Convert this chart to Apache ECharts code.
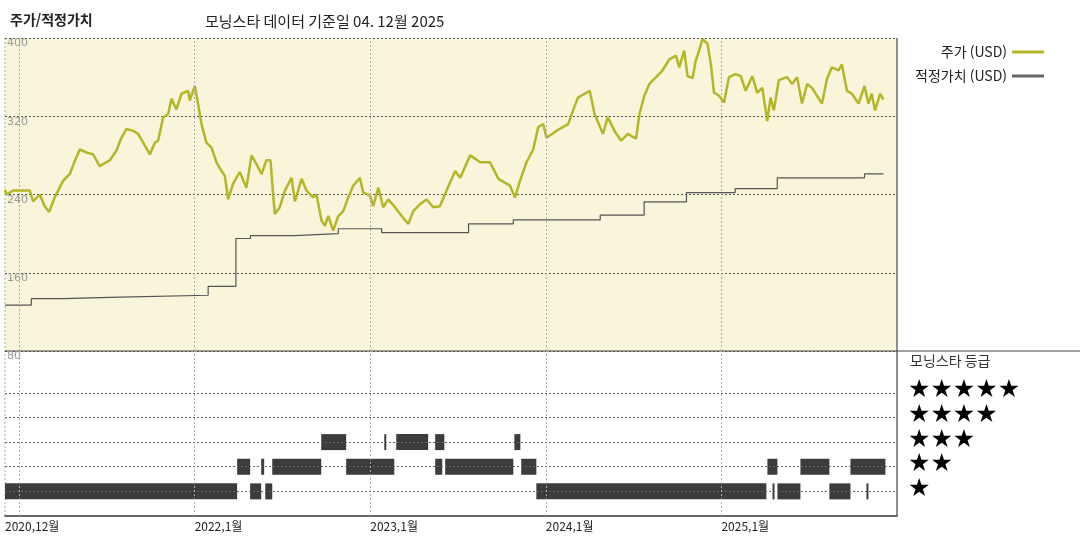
<!DOCTYPE html>
<html lang="ko">
<head>
    <meta charset="UTF-8">
    <title>주가/적정가치</title>
    <script src="https://cdn.jsdelivr.net/npm/echarts@6/dist/echarts.min.js"></script>
    <style type="text/css">
        html, body { margin: 0; padding: 0; background: #fff; }
        #chart { width: 1080px; height: 540px; }
    </style>
</head>
<body>
<div id="chart"></div>
<script type="text/javascript">
    // x positions are decimal years
    var priceX = [2020.92,2020.928,2020.966,2021.000,2021.061,2021.080,2021.118,2021.146,2021.171,2021.203,2021.251,2021.289,2021.317,2021.346,2021.384,2021.422,2021.459,2021.517,2021.555,2021.583,2021.612,2021.650,2021.678,2021.707,2021.745,2021.773,2021.792,2021.821,2021.849,2021.868,2021.896,2021.925,2021.963,2021.972,2022.001,2022.020,2022.039,2022.067,2022.096,2022.124,2022.153,2022.172,2022.191,2022.219,2022.257,2022.295,2022.324,2022.352,2022.381,2022.409,2022.432,2022.447,2022.457,2022.485,2022.514,2022.552,2022.571,2022.609,2022.637,2022.675,2022.694,2022.723,2022.742,2022.761,2022.789,2022.818,2022.846,2022.875,2022.903,2022.941,2022.960,2022.998,2023.017,2023.046,2023.074,2023.103,2023.141,2023.179,2023.217,2023.245,2023.283,2023.321,2023.359,2023.397,2023.437,2023.484,2023.512,2023.569,2023.626,2023.682,2023.730,2023.796,2023.824,2023.853,2023.890,2023.928,2023.957,2023.985,2024.004,2024.060,2024.127,2024.155,2024.183,2024.221,2024.250,2024.278,2024.325,2024.353,2024.391,2024.429,2024.467,2024.514,2024.533,2024.561,2024.590,2024.628,2024.665,2024.703,2024.741,2024.760,2024.788,2024.807,2024.836,2024.854,2024.873,2024.892,2024.921,2024.940,2024.958,2024.987,2025.015,2025.043,2025.081,2025.110,2025.138,2025.176,2025.204,2025.233,2025.261,2025.280,2025.299,2025.327,2025.374,2025.403,2025.431,2025.459,2025.488,2025.516,2025.544,2025.573,2025.601,2025.629,2025.667,2025.686,2025.715,2025.743,2025.781,2025.815,2025.837,2025.856,2025.875,2025.904,2025.923];
    var priceY = [245,240,244,244,244,233,240,228,222,237,254,261,274,286,283,281,269,275,285,298,307,305,302,293,281,293,295,319,322,338,327,343,346,336,351,332,312,293,288,273,264,259,235,251,263,247,280,271,261,275,275,240,220,227,244,257,233,256,244,237,240,213,208,218,203,218,223,237,249,257,242,239,228,247,227,235,227,218,210,223,230,235,227,228,245,264,257,280,273,273,256,249,237,254,273,286,309,312,298,305,312,326,339,343,346,322,302,319,305,295,302,297,322,341,353,360,367,378,382,370,387,361,359,377,387,399,394,373,344,341,334,360,363,361,346,361,344,349,315,339,326,357,360,353,360,333,353,349,341,333,358,370,367,373,346,343,333,351,333,343,326,343,337];

    var fairX = [2020.92,2021.070,2021.251,2021.574,2022.077,2022.235,2022.318,2022.571,2022.818,2023.065,2023.560,2023.815,2024.310,2024.560,2024.801,2025.078,2025.318,2025.815,2025.923];
    var fairY = [127,133.5,135,137,146,195,198,200,205,201,210,214,219,232.5,242,246,257,261,261];

    var ratingStart = [2020.92,2022.316,2022.402,2023.946,2025.291,2025.319,2025.615,2025.826, 2022.242,2022.379,2022.442,2022.863,2023.370,2023.427,2023.860,2025.262,2025.450,2025.735, 2022.721,2023.080,2023.148,2023.370,2023.821];
    var ratingEnd   = [2022.242,2022.379,2022.442,2025.256,2025.296,2025.450,2025.735,2025.832, 2022.316,2022.396,2022.721,2023.137,2023.410,2023.815,2023.946,2025.319,2025.615,2025.934, 2022.863,2023.091,2023.330,2023.422,2023.855];
    var ratingStars = [1,1,1,1,1,1,1,1, 2,2,2,2,2,2,2,2,2,2, 3,3,3,3,3];
    var starRows = [1,2,3,4,5];

    var yearTicks = [2021,2022,2023,2024,2025];
    var labelTicks = [2020.92,2021,2022,2023,2024,2025];
    var labelTexts = ['2020,12월','2021,1월','2022,1월','2023,1월','2024,1월','2025,1월'];

    var xMin = 2020.92, xMax = 2026.0;
    var FONT = '"Noto Sans CJK KR", sans-serif';

    var priceData = [], fairData = [], ratingData = [];
    for (var i = 0; i < priceX.length; i++) priceData.push([priceX[i], priceY[i]]);
    for (i = 0; i < fairX.length; i++) fairData.push([fairX[i], fairY[i]]);
    for (i = 0; i < ratingStars.length; i++) ratingData.push([ratingStart[i], ratingEnd[i], ratingStars[i]]);

    var vLines = yearTicks.map(function (v) { return {xAxis: v}; });
    var gridLine = {color: '#aaa', type: [2, 2], width: 1};

    var chart = echarts.init(document.getElementById('chart'));
    chart.setOption({
        animation: false,
        title: [
            {text: '주가/적정가치', left: 5, top: 8, textStyle: {fontFamily: FONT, fontSize: 14, fontWeight: 'bold', color: '#222'}},
            {text: '모닝스타 데이터 기준일 04. 12월 2025', left: 200, top: 9, textStyle: {fontFamily: FONT, fontSize: 15, fontWeight: 'normal', color: '#222'}}
        ],
        legend: {
            left: 910, top: 40, orient: 'vertical', align: 'right', itemGap: 10,
            itemWidth: 32, itemHeight: 3, icon: 'rect',
            textStyle: {fontFamily: FONT, fontSize: 14, color: '#222', width: 122},
            data: [{name: '주가 (USD)', itemStyle: {color: '#b3b628'}},
                   {name: '적정가치 (USD)', itemStyle: {color: '#666'}}]
        },
        grid: [
            {left: 5, right: 183, top: 38, bottom: 189, show: true, backgroundColor: '#f8f5da', borderWidth: 0},
            {left: 5, right: 183, top: 351, bottom: 24, show: false}
        ],
        xAxis: [
            {gridIndex: 0, type: 'value', min: xMin, max: xMax, show: false},
            {gridIndex: 1, type: 'value', min: xMin, max: xMax, splitLine: {show: false},
             axisLine: {lineStyle: {color: '#333', width: 1.5}}, axisTick: {show: false},
             axisLabel: {customValues: labelTicks, align: 'left', margin: 4, color: '#222', fontFamily: FONT, fontSize: 12,
                 showMinLabel: true, hideOverlap: false,
                 formatter: function (v) {
                     var k = labelTicks.indexOf(v);
                     return k >= 0 ? labelTexts[k] : '';
                 }}}
        ],
        yAxis: [
            {gridIndex: 0, type: 'value', min: 80, max: 400, interval: 80,
             axisLine: {show: false}, axisTick: {show: false},
             axisLabel: {inside: true, verticalAlign: 'top', margin: 2, color: '#999', fontSize: 11, fontFamily: 'DejaVu Sans', showMaxLabel: true, showMinLabel: true},
             splitLine: {lineStyle: {color: '#555', type: [2, 2], width: 1}}},
            {gridIndex: 1, type: 'value', min: 0, max: 6.7, show: false, splitLine: {show: false}}
        ],
        series: [
            {name: '적정가치 (USD)', type: 'line', xAxisIndex: 0, yAxisIndex: 0, data: fairData, step: 'end',
             showSymbol: false, lineStyle: {color: '#555', width: 1.2}, itemStyle: {color: '#666'},
             markLine: {silent: true, symbol: 'none', label: {show: false}, lineStyle: gridLine, data: vLines}},
            {name: '주가 (USD)', type: 'line', xAxisIndex: 0, yAxisIndex: 0, data: priceData,
             showSymbol: false, lineStyle: {color: '#b3b628', width: 2.5}, itemStyle: {color: '#b3b628'}},
            {name: 'rating', type: 'custom', xAxisIndex: 1, yAxisIndex: 1, data: ratingData,
             renderItem: function (params, api) {
                 var a = api.coord([api.value(0), api.value(2)]);
                 var b = api.coord([api.value(1), api.value(2)]);
                 return {type: 'rect', shape: {x: a[0], y: a[1] - 8, width: Math.max(b[0] - a[0], 2), height: 16},
                         style: {fill: '#3c3c3c'}};
             },
             markLine: {silent: true, symbol: 'none', label: {show: false},
                 data: starRows.map(function (v) { return {yAxis: v, lineStyle: {color: '#666', type: [2, 2], width: 1}}; })
                     .concat(yearTicks.map(function (v) { return {xAxis: v, lineStyle: gridLine}; }))}}
        ],
        graphic: [
            {type: 'line', shape: {x1: 5, y1: 38, x2: 5, y2: 516}, style: {stroke: '#aaa', lineDash: [2, 2]}},
            {type: 'line', shape: {x1: 897, y1: 38, x2: 897, y2: 516}, style: {stroke: '#222', lineWidth: 1}},
            {type: 'line', shape: {x1: 5, y1: 351, x2: 1080, y2: 351}, style: {stroke: '#444', lineWidth: 1}},
            {type: 'text', left: 910, top: 354, style: {text: '모닝스타 등급', font: '14px ' + FONT, fill: '#333'}},
            {type: 'text', left: 908, top: 378, style: {text: '★★★★★', font: '25px "DejaVu Sans"', fill: '#000'}},
            {type: 'text', left: 908, top: 403, style: {text: '★★★★', font: '25px "DejaVu Sans"', fill: '#000'}},
            {type: 'text', left: 908, top: 428, style: {text: '★★★', font: '25px "DejaVu Sans"', fill: '#000'}},
            {type: 'text', left: 908, top: 452, style: {text: '★★', font: '25px "DejaVu Sans"', fill: '#000'}},
            {type: 'text', left: 908, top: 477, style: {text: '★', font: '25px "DejaVu Sans"', fill: '#000'}}
        ]
    });
</script>
</body>
</html>
